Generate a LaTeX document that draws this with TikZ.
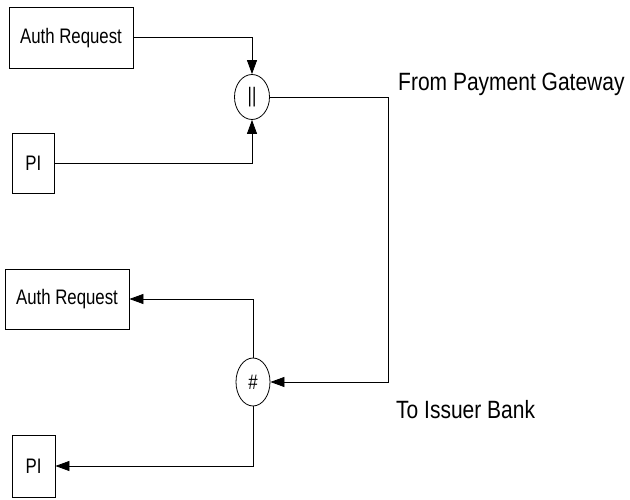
\documentclass[tikz,border=0pt]{standalone}
\usepackage{fontspec}
\newfontfamily\boxfont{Liberation Sans}[FakeStretch=0.8]
\newfontfamily\sidefont{Liberation Sans}[FakeStretch=0.84]
\usetikzlibrary{shapes.geometric,arrows.meta}

\tikzstyle{msg} = [draw, rectangle, inner sep=0pt, line width=0.8pt, font=\boxfont\fontsize{21}{25}\selectfont]
\tikzstyle{op} = [draw, ellipse, inner sep=0pt, line width=0.8pt, font=\boxfont\fontsize{21}{25}\selectfont]
\tikzstyle{flow} = [line width=0.8pt, -{Triangle[length=14pt,width=10pt]}]
\tikzstyle{side} = [anchor=base west, inner sep=0pt, font=\sidefont\fontsize{25}{30}\selectfont]

\begin{document}
\begin{tikzpicture}[x=1pt, y=-1pt]
      \useasboundingbox (0,0) rectangle (630,500);
      \node[msg, minimum width=124, minimum height=61] (a) at (71,37.7) {Auth Request};
      \node[msg, minimum width=42, minimum height=60] (b) at (33.3,163) {PI};
      \node[op, minimum width=35, minimum height=45] (c) at (252,97) {||};
      \node[msg, minimum width=124, minimum height=60] (d) at (67,299) {Auth Request};
      \node[msg, minimum width=43, minimum height=62] (e) at (33.5,466) {PI};
      \node[op, minimum width=34, minimum height=48] (f) at (253,382) {\#};
      \coordinate (g) at (388,97);
      \node[side] (h) at (398,91) {From Payment Gateway};
      \node[side] (i) at (396,418) {To Issuer Bank};
      \draw[flow] (a.east) -| (c.north);
      \draw[flow] (b.east) -| (c.south);
      \draw[flow] (c.east) -- (g) |- (f.east);
      \draw[flow] (f.north) |- (d.east);
      \draw[flow] (f.south) |- (e.east);
    \end{tikzpicture}
\end{document}
